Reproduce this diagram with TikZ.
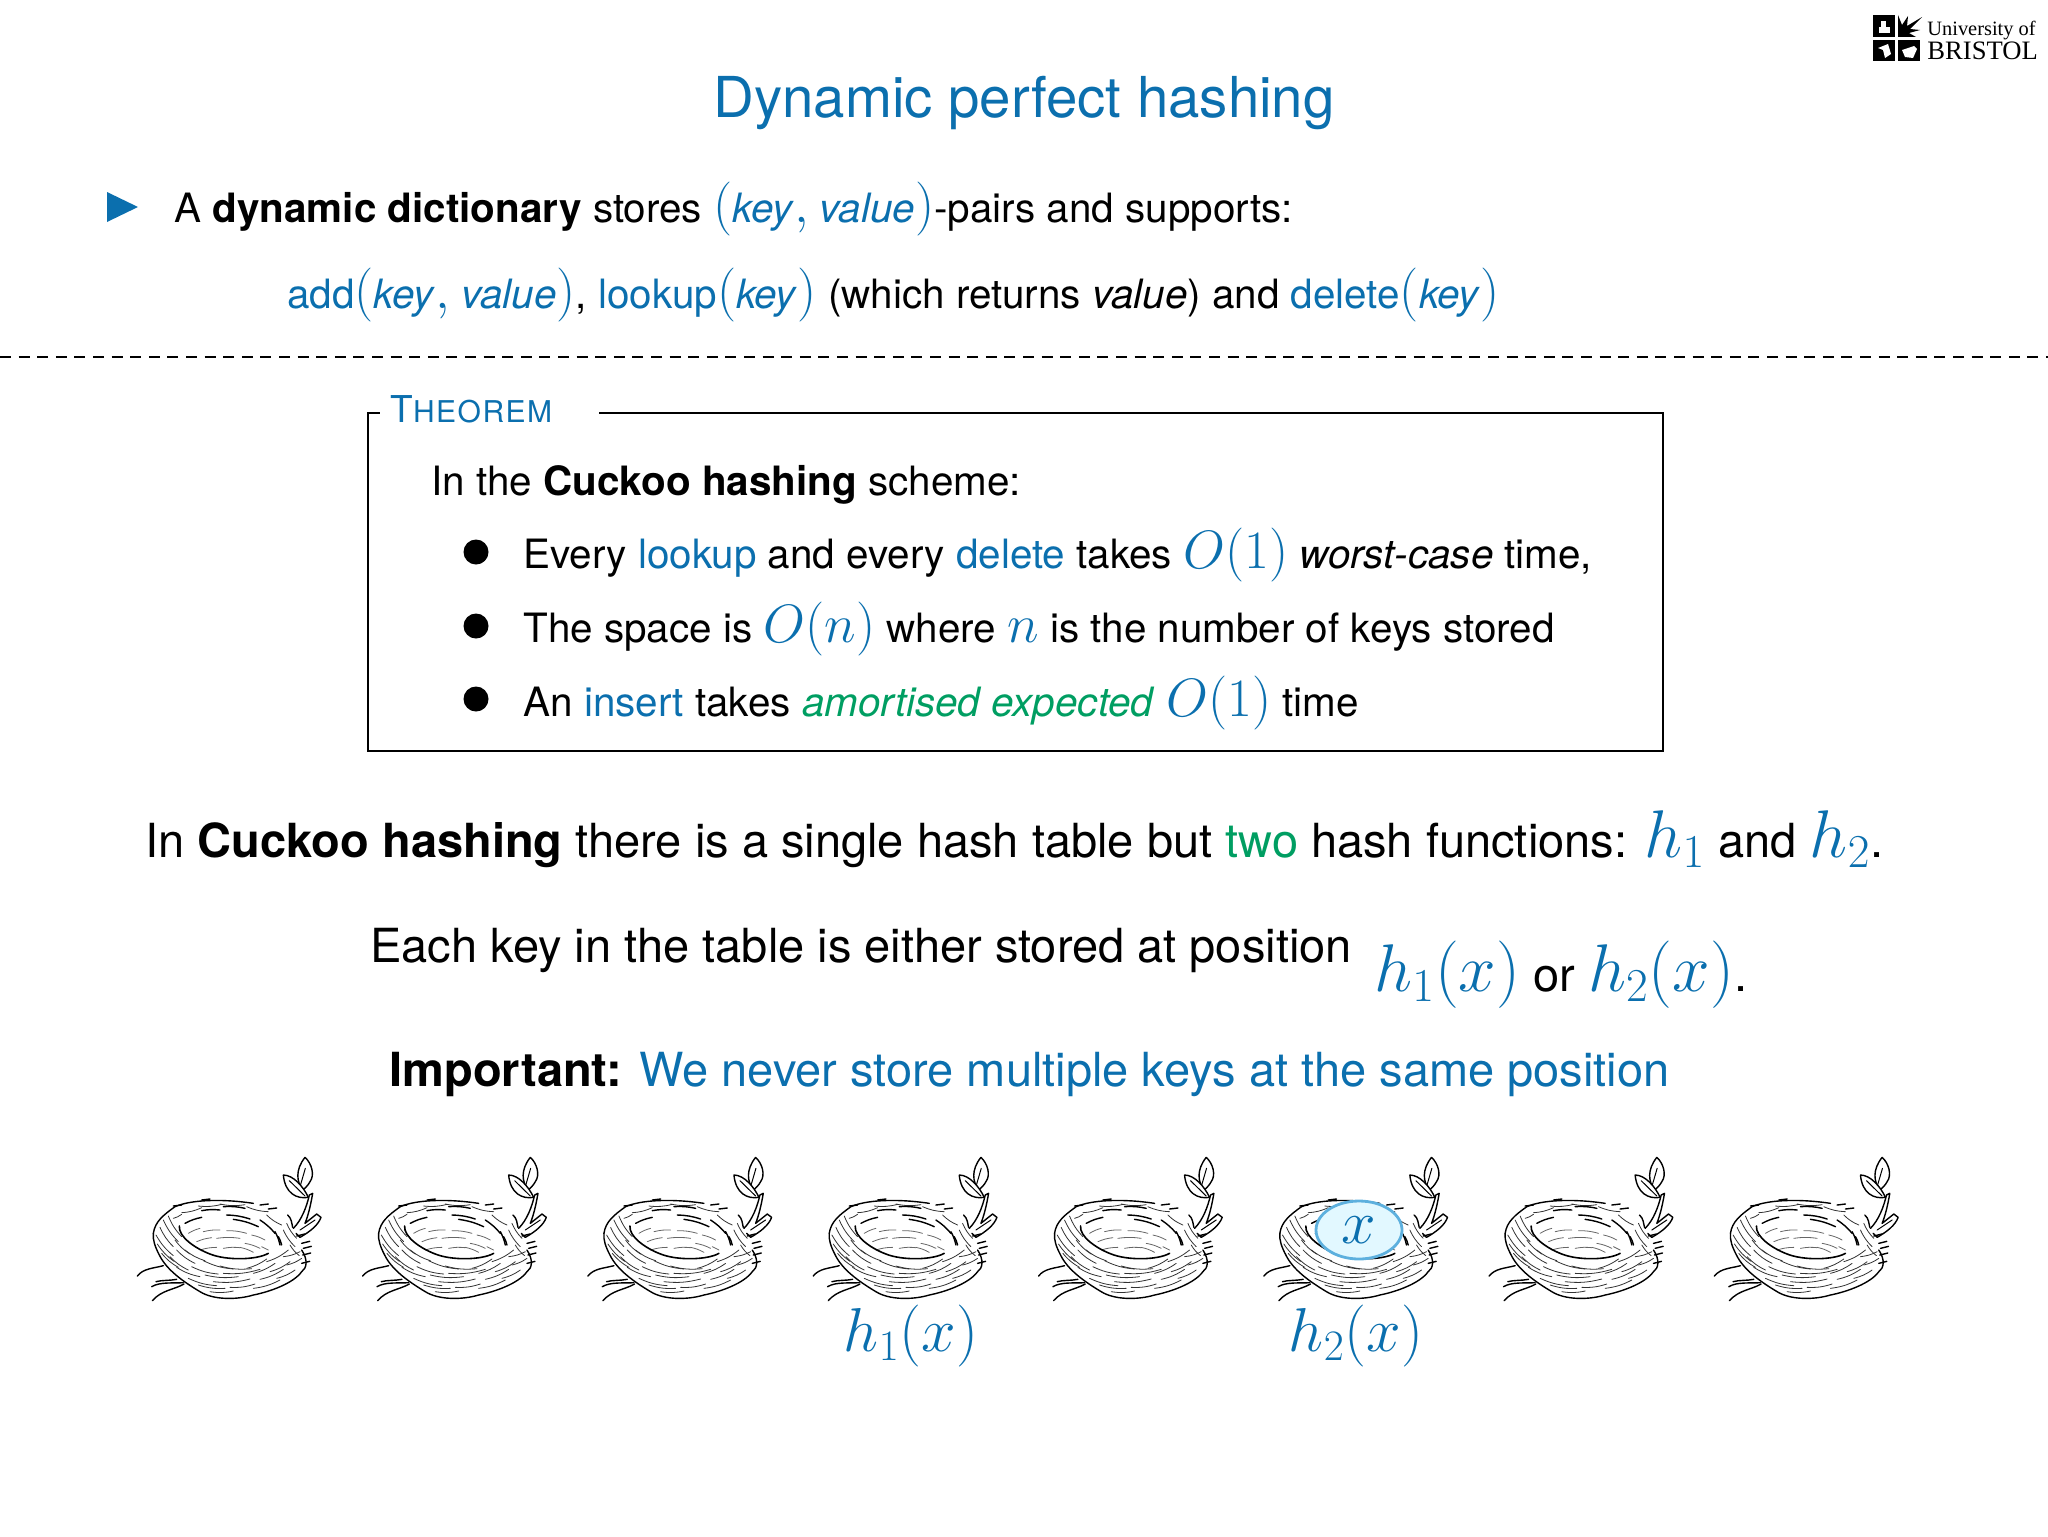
\documentclass[tikz,border=0pt]{standalone}
\usepackage{fix-cm}
\usepackage{amsmath}
\usepackage{fontspec}
\setmainfont{TeX Gyre Heros}
\newfontfamily\logofont{Liberation Serif}
\usepackage{tikz}
\usetikzlibrary{shapes.geometric}
\definecolor{hashblue}{HTML}{0B6FAE}
\definecolor{hashgreen}{HTML}{009E62}
\definecolor{keyfill}{HTML}{E2F8FF}
\definecolor{keyline}{HTML}{5DB0DE}
\def\bl#1{\textcolor{hashblue}{#1}}
\def\gr#1{\textcolor{hashgreen}{#1}}
\def\bodysize{\fontsize{20.2}{25}\selectfont}
\def\bigsize{\fontsize{23.5}{29}\selectfont}
\def\mm#1{{\fontsize{27}{30}\selectfont$#1$}}
\def\mb#1{{\fontsize{33.7}{36}\selectfont$#1$}}
\tikzset{
  txt/.style={anchor=base west,inner sep=0pt,font=\bodysize},
  bigtxt/.style={anchor=base west,inner sep=0pt,font=\bigsize},
  dot/.style={circle,fill=black,inner sep=0pt,minimum size=12.5pt},
  nest/.pic={
    \begin{scope}[x=0.16667pt,y=-0.16667pt,line cap=round]
    % body strokes
    \foreach \a/\b/\c/\d in {120/262/40/58,108/285/52/62,112/312/50/52,130/240/45/65,145/228/40/62,
      125/340/50/42,150/350/55/40,170/330/55/40,195/330/60/32,165/300/45/42,
      170/382/70/28,215/380/80/22,250/362/90/25,300/378/95/8,205/415/85/22,255/405/100/5,
      280/425/110/-8,235/435/80/10,270/455/70/-2,330/442/75/-10,310/400/110/-12,380/385/60/-28,
      400/400/65/-30,420/418/70/-30,400/445/80/-25,450/395/60/-30,470/415/55/-25,440/365/65/-35,
      490/350/50/-15,500/375/45/-20,510/315/28/32,490/270/35/50,500/250/30/45,
      185/218/60/-15,235/198/70/-5,300/192/75/2,380/200/65/15,440/225/45/30,160/235/25/-12}
      \draw[line width=0.4pt,black!80] (\a,\b) to[bend right=10] ++(\c,\d);
    % bowl strokes
    \foreach \a/\b/\c/\d in {205/280/35/-15,250/275/50/-5,320/272/60/8,395/285/40/15,230/305/45/-12,
      290/295/70/0,375/310/45/15,240/330/50/-8,310/325/50/-2,360/322/40/15,425/320/20/10}
      \draw[line width=0.4pt,black!60] (\a,\b) to[bend left=8] ++(\c,\d);
    % dark strokes of the rim
    \foreach \a/\b/\c/\d in {195/250/50/-18,245/212/55/-2,320/225/70/12,310/200/65/5,340/238/75/22,
      420/240/45/40,465/275/15/40,475/290/10/25}
      \draw[line width=0.7pt] (\a,\b) to[bend left=8] ++(\c,\d);
    \draw[line width=0.8pt] (178,258) .. controls (175,290) and (225,325) .. (270,342)
      .. controls (320,362) and (410,360) .. (445,340);
    % outline
    \draw[line width=0.7pt,line join=round] (100,280) .. controls (105,245) and (130,225) .. (165,200)
      .. controls (210,180) and (300,175) .. (400,190);
    \draw[line width=0.7pt,line join=round] (545,330) .. controls (565,360) and (560,385) .. (545,395) .. controls (520,430) and (450,455) .. (400,465)
      .. controls (350,480) and (280,480) .. (240,455) .. controls (190,425) and (140,390) .. (118,345)
      .. controls (105,320) and (98,300) .. (100,280);
    % leaves and twig
    \draw[line width=0.7pt,fill=white,line join=round] (555,52) .. controls (575,70) and (585,105) .. (570,125)
      .. controls (565,135) and (555,145) .. (548,150) .. controls (530,125) and (525,90) .. (555,52);
    \draw[line width=0.5pt] (556,85) -- (540,140);
    \draw[line width=0.7pt,fill=white,line join=round] (490,105) .. controls (520,105) and (550,140) .. (565,172)
      .. controls (530,178) and (495,160) .. (490,105);
    \draw[line width=0.5pt] (508,122) -- (555,168);
    \draw[line width=0.7pt,fill=white,line join=round] (520,265) .. controls (545,240) and (560,200) .. (568,165)
      -- (578,160) .. controls (572,195) and (565,225) .. (555,250) -- (590,222) -- (603,232)
      .. controls (595,255) and (570,275) .. (540,292) -- (528,280);
    \draw[line width=0.5pt] (540,270) -- (585,240);
    % tufts
    \foreach \a/\b in {530/288,545/310,550/325,548/345,545/370}
      \draw[line width=0.7pt] (\a,\b) -- ++(24,-6);
    \foreach \a/\b in {160/198,245/180,420/195,445/207}
      \draw[line width=0.7pt] (\a,\b) -- ++(25,-3);
    \draw[line width=0.7pt] (503,225) .. controls (515,235) and (515,250) .. (518,262);
    % roots
    \draw[line width=0.7pt] (52,408) .. controls (70,385) and (100,385) .. (130,377);
    \draw[line width=0.7pt] (95,440) .. controls (120,425) and (160,430) .. (190,428);
    \draw[line width=0.7pt] (97,482) .. controls (125,450) and (160,450) .. (192,432);
    \draw[line width=0.7pt] (108,425) .. controls (125,420) and (150,422) .. (170,418);
    \end{scope}
  }
}
\begin{document}
\begin{tikzpicture}[x=0.5pt,y=-0.5pt]
\useasboundingbox (0,0) rectangle (2048,1536);
\node[anchor=base,inner sep=0pt,font=\fontsize{28.2}{34}\selectfont,text=hashblue] (title) at (1024,118) {Dynamic perfect hashing};
% logo
\fill (1873,15) rectangle (1895,37);
\fill (1873,40) rectangle (1895,61);
\fill (1898,40) rectangle (1920,61);
\fill (1898,37) -- (1898,15) -- (1902,25) -- (1908,16) -- (1907,26) -- (1922,17) -- (1910,29) -- (1920,30) -- (1909,33) -- (1916,37) -- cycle;
\fill[white] (1879,27) rectangle (1890,33);
\fill[white] (1881,21) rectangle (1886,27);
\fill[white] (1878,48) -- (1888,44) -- (1891,54) -- (1885,58) -- (1883,50) -- cycle;
\fill[white] (1902,50) -- (1914,46) -- (1917,49) -- (1913,58) -- (1905,57) -- cycle;
\node[anchor=base west,inner sep=0pt,font=\logofont\fontsize{10.2}{12}\selectfont] (logotop) at (1927,36) {University of};
\node[anchor=base west,inner sep=0pt,font=\logofont\fontsize{13.3}{16}\selectfont] (logobot) at (1927,60) {BRISTOL};
% intro
\fill[hashblue] (107,192) -- (138,207) -- (107,222) -- cycle;
\node[txt] (intro) at (174,222) {A \textbf{dynamic dictionary} stores \bl{\mm{(}\textit{key}\mm{,} \textit{value}\mm{)}}-pairs and supports:};
\node[txt] (ops) at (287,308) {\bl{add\mm{(}\textit{key}\mm{,} \textit{value}\mm{)}}, \bl{lookup\mm{(}\textit{key}\mm{)}} (which returns \textit{value}) and \bl{delete\mm{(}\textit{key}\mm{)}}};
\coordinate (dashl) at (0,357);
\coordinate (dashr) at (2048,357);
\draw[line width=1pt,dash pattern=on 5.5pt off 3.8pt] (dashl) -- (dashr);
% theorem box
\node[draw,line width=1.4pt,rectangle,minimum width=647.5pt,minimum height=169pt,inner sep=0pt] (thm) at (1015.5,582) {};
\fill[white] (380,400) rectangle (599,425);
\node[anchor=base west,inner sep=0pt,text=hashblue,font=\fontsize{18.5}{25}\selectfont] (thmtitle) at (390,422) {T{\fontsize{15}{20}\selectfont\addfontfeature{LetterSpace=5}HEOREM}};
\node[txt] (thmhead) at (431,495) {In the \textbf{Cuckoo hashing} scheme:};
\node[dot] (b1) at (476,552) {};
\node[dot] (b2) at (476,626) {};
\node[dot] (b3) at (476,699) {};
\node[txt] (item1) at (523,568) {Every \bl{lookup} and every \bl{delete} takes \bl{\mm{O(1)}} \textit{worst-case} time,};
\node[txt] (item2) at (523,642) {The space is \bl{\mm{O(n)}} where \bl{\mm{n}} is the number of keys stored};
\node[txt] (item3) at (523,716) {An \bl{insert} takes \gr{\textit{amortised expected}} \bl{\mm{O(1)}} time};
% main text
\node[bigtxt] (cuckoo) at (145,857) {In \textbf{Cuckoo hashing} there is a single hash table but \gr{two} hash functions: \bl{\mb{h_1}} and \bl{\mb{h_2}}.};
\node[bigtxt] (each) at (370,962) {Each key in the table is either stored at position};
\node[bigtxt] (pos) at (1374,991) {\bl{\mb{h_1(x)}} or \bl{\mb{h_2(x)}}.};
\node[bigtxt] (important) at (389,1086) {\textbf{Important:} \bl{We never store multiple keys at the same position}};
% nests
\foreach \i in {0,...,7}
  \pic (nest\i) at ({120+225.3*\i},1140) {nest};
\node[ellipse,draw=keyline,line width=1.4pt,fill=keyfill,minimum width=43pt,minimum height=29pt,inner sep=0pt,text=hashblue] (keyx) at (1359,1230) {\fontsize{31}{33}\selectfont$x$};
\node[anchor=base,inner sep=0pt,text=hashblue] (hone) at (911,1351) {\fontsize{31}{33}\selectfont$h_1(x)$};
\node[anchor=base,inner sep=0pt,text=hashblue] (htwo) at (1356,1351) {\fontsize{31}{33}\selectfont$h_2(x)$};
\end{tikzpicture}
\end{document}
